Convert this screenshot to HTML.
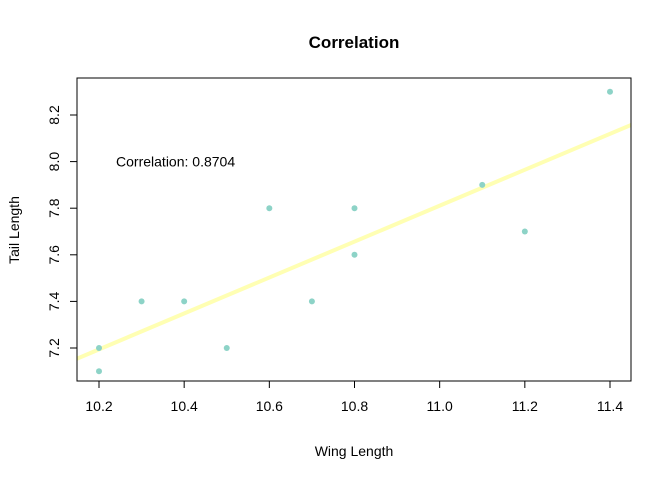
<!DOCTYPE html>
<html><head><meta charset="utf-8"><style>
body{margin:0;background:#fff}
svg{display:block;font-family:"Liberation Sans",Arial,sans-serif}
</style></head><body>
<svg id="c" width="672" height="480">
<defs><clipPath id="clip"><rect x="77" y="78" width="554" height="303"/></clipPath></defs>
<rect width="672" height="480" fill="#fff"/>
<text x="354" y="48" text-anchor="middle" font-size="17" font-weight="bold">Correlation</text>
<text x="354" y="456" text-anchor="middle" font-size="14">Wing Length</text>
<text transform="translate(19,230) rotate(-90)" text-anchor="middle" font-size="14">Tail Length</text>
<g id="marks"></g>
<rect x="77" y="78" width="554" height="303" fill="none" stroke="#000"/>
<g id="axes"></g>
</svg>
<script>
const wing = [10.2,10.2,10.3,10.4,10.5,10.6,10.7,10.8,10.8,11.1,11.2,11.4];
const tail = [7.2,7.1,7.4,7.4,7.2,7.8,7.4,7.8,7.6,7.9,7.7,8.3];
const xTicks = [10.2,10.4,10.6,10.8,11.0,11.2,11.4];
const yTicks = [7.2,7.4,7.6,7.8,8.0,8.2];
const corrLabel = "Correlation: 0.8704";

const NS="http://www.w3.org/2000/svg";
const sx=v=>99+(v-10.2)*(610-99)/1.2;
const sy=v=>348-(v-7.2)*(348-115)/1.0;
function mk(t,a,p){const e=document.createElementNS(NS,t);for(const k in a)e.setAttribute(k,a[k]);p.appendChild(e);return e;}
const marks=document.getElementById('marks'),axes=document.getElementById('axes');
// regression
const n=wing.length,mx=wing.reduce((a,b)=>a+b)/n,my=tail.reduce((a,b)=>a+b)/n;
let sxy=0,sxx=0;for(let i=0;i<n;i++){sxy+=(wing[i]-mx)*(tail[i]-my);sxx+=(wing[i]-mx)**2;}
const b=sxy/sxx,a0=my-b*mx;
const x0=10.0,x1=11.6;
const ln=mk('line',{x1:sx(x0),y1:sy(a0+b*x0),x2:sx(x1),y2:sy(a0+b*x1),stroke:'#ffffb3','stroke-width':4,'clip-path':'url(#clip)'},marks);


for(let i=0;i<n;i++){
 const c=mk('circle',{cx:sx(wing[i]),cy:sy(tail[i]),r:3,fill:'#8dd3c7'},marks);
 
 
}
const t=mk('text',{x:sx(10.24),y:sy(8.0)+5,'font-size':14},marks);t.textContent=corrLabel;


mk('line',{x1:sx(10.2),x2:sx(11.4),y1:381,y2:381,stroke:'#000'},axes);
xTicks.forEach(v=>{
 mk('line',{x1:sx(v),x2:sx(v),y1:381,y2:388,stroke:'#000'},axes);
 const e=mk('text',{x:sx(v),y:411,'text-anchor':'middle','font-size':14},axes);e.textContent=v.toFixed(1);
 
 
});
mk('line',{x1:77,x2:77,y1:sy(7.2),y2:sy(8.2),stroke:'#000'},axes);
yTicks.forEach(v=>{
 mk('line',{x1:70,x2:77,y1:sy(v),y2:sy(v),stroke:'#000'},axes);
 const e=mk('text',{transform:`translate(59,${sy(v)}) rotate(-90)`,'text-anchor':'middle','font-size':14},axes);e.textContent=v.toFixed(1);
 
 
});
</script>
</body></html>
